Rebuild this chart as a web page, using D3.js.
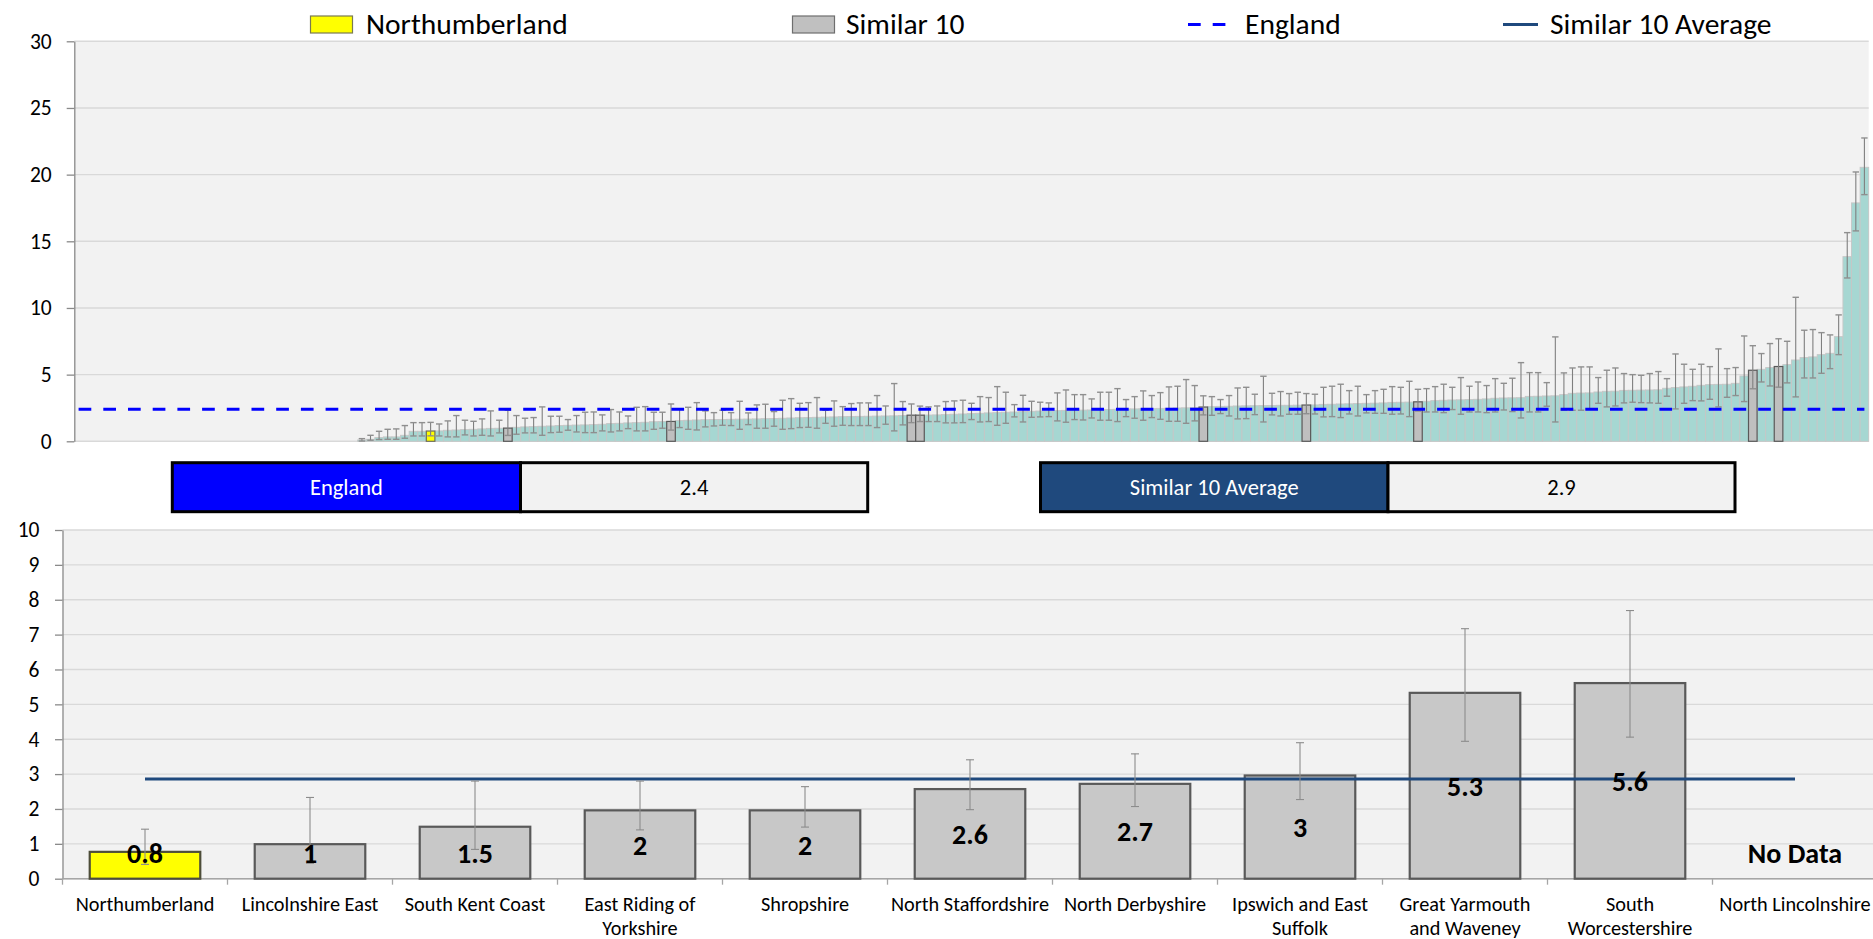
<!DOCTYPE html>
<html>
<head>
<meta charset="utf-8">
<script src="https://cdn.jsdelivr.net/npm/d3@7"></script>
<style>
  body { margin: 0; background: #ffffff; }
  svg { display: block; }
  text { font-family: Carlito, Calibri, Lato, sans-serif; }
</style>
</head>
<body>
<svg id="chart" width="1873" height="939"></svg>
<script>
// ---------------- DATA ----------------
// Top chart: all areas sorted by value (null = no data). Rows of 10 indices.
const topValues = [
  null,null,null,null,null,null,null,null,null,null,
  null,null,null,null,null,null,null,null,null,null,
  null,null,null,null,null,null,null,null,null,null,
  null,null,null,0.1,0.15,0.28,0.33,0.33,0.45,0.75,
  0.75,0.77,0.78,0.83,0.85,0.88,0.9,0.93,0.97,0.98,
  0.99,1.05,1.08,1.1,1.13,1.15,1.18,1.2,1.22,1.23,
  1.25,1.28,1.33,1.35,1.38,1.4,1.43,1.47,1.48,1.49,
  1.55,1.58,1.6,1.62,1.63,1.64,1.65,1.66,1.67,1.68,
  1.7,1.71,1.73,1.75,1.77,1.78,1.8,1.82,1.83,1.85,
  1.86,1.87,1.88,1.89,1.9,1.91,1.93,1.96,1.96,1.97,
  1.98,2.0,2.03,2.05,2.08,2.1,2.13,2.15,2.18,2.2,
  2.23,2.25,2.27,2.28,2.3,2.32,2.33,2.34,2.35,2.38,
  2.39,2.4,2.42,2.43,2.44,2.45,2.47,2.48,2.5,2.51,
  2.53,2.57,2.6,2.62,2.63,2.65,2.66,2.67,2.68,2.69,
  2.7,2.7,2.71,2.72,2.73,2.77,2.78,2.8,2.81,2.83,
  2.85,2.86,2.88,2.92,2.93,2.94,2.96,3.0,3.05,3.08,
  3.1,3.11,3.13,3.15,3.18,3.23,3.25,3.26,3.27,3.37,
  3.38,3.4,3.41,3.5,3.6,3.62,3.63,3.7,3.75,3.76,
  3.82,3.83,3.84,3.85,3.86,3.98,4.03,4.08,4.13,4.2,
  4.25,4.27,4.28,4.35,4.9,5.33,5.4,5.53,5.61,5.75,
  6.1,6.28,6.33,6.5,6.6,7.85,13.85,17.88,20.55
];
const topUpper = [
  null,null,null,null,null,null,null,null,null,null,
  null,null,null,null,null,null,null,null,null,null,
  null,null,null,null,null,null,null,null,null,null,
  null,null,null,0.2,0.45,0.75,0.9,0.93,1.18,1.4,
  1.4,1.42,1.3,1.53,1.93,1.58,1.5,1.68,2.28,1.58,
  2.33,1.93,1.73,1.78,2.58,1.88,1.88,1.63,1.93,2.18,
  2.2,1.98,2.38,2.2,1.9,2.55,2.6,2.18,2.18,2.8,
  2.4,2.55,2.9,2.28,2.15,2.33,2.15,3.0,2.13,2.73,
  2.78,2.23,3.08,3.2,2.85,2.9,3.28,2.33,3.03,2.6,
  2.83,2.88,2.88,3.43,2.65,4.33,2.98,2.8,2.64,2.58,
  2.65,2.98,3.03,3.08,2.85,3.35,3.28,4.1,3.68,2.75,
  3.45,3.0,2.93,2.88,3.63,3.85,3.5,3.5,3.18,3.68,
  3.68,3.95,3.13,3.35,3.78,3.43,3.65,4.08,4.13,4.63,
  4.18,3.41,3.35,3.13,3.43,4.0,4.05,3.53,4.88,3.6,
  3.73,3.58,3.68,3.58,3.53,4.05,4.13,4.28,3.8,4.13,
  3.5,3.8,3.9,4.1,4.05,4.5,3.9,3.95,4.1,4.28,
  4.05,4.78,4.13,4.45,4.18,4.7,4.35,4.73,5.9,5.15,
  5.15,4.4,7.83,5.13,5.5,5.58,5.58,4.78,5.33,5.5,
  5.08,5.0,4.95,5.08,5.23,4.7,6.55,5.78,5.4,5.78,
  5.6,6.93,5.45,5.53,7.9,7.17,6.58,7.33,7.69,7.5,
  10.8,8.33,8.38,8.15,7.98,9.48,15.65,20.2,22.75
];
const topLower = [
  null,null,null,null,null,null,null,null,null,null,
  null,null,null,null,null,null,null,null,null,null,
  null,null,null,null,null,null,null,null,null,null,
  null,null,null,0.02,0.08,0.13,0.15,0.15,0.23,0.4,
  0.4,0.41,0.4,0.33,0.33,0.48,0.4,0.45,0.4,0.63,
  0.44,0.53,0.63,0.63,0.45,0.65,0.68,0.83,0.7,0.65,
  0.65,0.78,0.7,0.78,0.95,0.78,0.78,0.9,0.98,0.84,
  1.03,0.9,0.85,1.08,1.15,1.2,1.18,0.9,1.25,0.98,
  0.98,1.13,0.9,0.95,1.03,1.05,0.98,1.35,1.13,1.2,
  1.18,1.18,1.18,1.03,1.28,0.78,1.23,1.4,1.48,1.48,
  1.48,1.38,1.38,1.4,1.63,1.45,1.48,1.2,1.35,1.83,
  1.45,1.8,1.83,1.85,1.53,1.43,1.63,1.6,1.75,1.58,
  1.58,1.48,1.85,1.73,1.58,1.78,1.65,1.5,1.5,1.35,
  1.53,1.98,1.95,2.08,1.9,1.68,1.7,2.0,1.45,1.98,
  1.9,2.03,2.03,2.07,2.05,1.83,1.85,1.78,2.05,1.9,
  2.13,2.1,2.1,2.03,2.05,1.85,2.27,2.2,2.2,2.15,
  2.38,2.03,2.2,2.2,2.15,2.2,2.35,2.23,1.75,2.2,
  2.2,2.63,1.45,2.33,2.33,2.33,2.4,2.85,2.58,2.65,
  2.88,2.93,2.9,2.88,2.85,3.38,2.43,2.85,3.05,3.03,
  3.15,2.58,3.3,3.43,2.98,3.94,4.45,4.15,4.06,4.38,
  3.33,4.75,4.75,5.1,5.45,6.5,12.25,15.78,18.5
];
// Positions (in the sorted list) of the highlighted areas
const northumberlandIndex = 41;
const similarIndices = [50, 69, 97, 98, 131, 143, 156, 195, 198];
const topTicks = [0, 5, 10, 15, 20, 25, 30];

const englandValue = 2.4;
const similarAverageValue = 2.86;

// Bottom chart: Northumberland and its 10 similar areas
const bottomLabelLines = [
  ["Northumberland"],
  ["Lincolnshire East"],
  ["South Kent Coast"],
  ["East Riding of", "Yorkshire"],
  ["Shropshire"],
  ["North Staffordshire"],
  ["North Derbyshire"],
  ["Ipswich and East", "Suffolk"],
  ["Great Yarmouth", "and Waveney"],
  ["South", "Worcestershire"],
  ["North Lincolnshire"]
];
const bottomCategories = bottomLabelLines.map(l => l.join(" "));
const bottomValues = [0.77, 0.99, 1.49, 1.96, 1.96, 2.57, 2.72, 2.96, 5.33, 5.61, null];
const bottomLower  = [0.41, 0.44, 0.84, 1.40, 1.48, 1.98, 2.07, 2.27, 3.94, 4.06, null];
const bottomUpper  = [1.42, 2.33, 2.80, 2.80, 2.64, 3.41, 3.58, 3.90, 7.17, 7.69, null];
const bottomTicks = [0, 1, 2, 3, 4, 5, 6, 7, 8, 9, 10];

const legendLabels = ["Northumberland", "Similar 10", "England", "Similar 10 Average"];

// ---------------- DRAWING ----------------
const svg = d3.select("#chart");
const fmt1 = v => String(+v.toFixed(1));
const FONT = "Carlito, Calibri, Lato, sans-serif";

// ===== TOP CHART =====
const T = { left: 74.3, right: 1868.7, top: 41.3, bottom: 441.3 };
const xTop = d3.scaleBand().domain(topValues.map((d, i) => i)).range([T.left, T.right]).padding(0);
const yTop = d3.scaleLinear().domain([0, 30]).range([T.bottom, T.top]);

svg.append("rect").attr("x", T.left).attr("y", T.top)
  .attr("width", T.right - T.left).attr("height", T.bottom - T.top).attr("fill", "#f2f2f2");

svg.append("g").selectAll("line").data(topTicks).join("line")
  .attr("x1", T.left).attr("x2", T.right)
  .attr("y1", d => yTop(d)).attr("y2", d => yTop(d))
  .attr("stroke", "#d9d9d9").attr("stroke-width", 1.4);

const topAxis = svg.append("g").attr("transform", `translate(${T.left},0)`)
  .call(d3.axisLeft(yTop).tickValues(topTicks).tickSize(7.6).tickSizeOuter(0).tickPadding(15));
topAxis.select(".domain").attr("stroke", "#8a8a8a").attr("stroke-width", 1.3);
topAxis.selectAll(".tick line").attr("stroke", "#8a8a8a").attr("stroke-width", 1.3);
topAxis.selectAll(".tick text").attr("font-size", 21.5).attr("fill", "#000").style("font-family", FONT);

const topData = topValues.map((v, i) => ({
  i, v, lo: topLower[i], hi: topUpper[i],
  kind: i === northumberlandIndex ? "n" : (similarIndices.includes(i) ? "s" : "o")
})).filter(d => d.v !== null);

const fillOf = { o: "#a6d7d2", s: "#bfbfbf", n: "#ffff00" };
const strokeOf = { o: "#c6c6c6", s: "#595959", n: "#6e6e5a" };
const order = { o: 0, s: 1, n: 1 };

svg.append("g").selectAll("rect")
  .data(topData.slice().sort((a, b) => order[a.kind] - order[b.kind]))
  .join("rect")
  .attr("x", d => xTop(d.i)).attr("width", xTop.bandwidth())
  .attr("y", d => yTop(d.v)).attr("height", d => yTop(0) - yTop(d.v))
  .attr("fill", d => fillOf[d.kind]).attr("stroke", d => strokeOf[d.kind])
  .attr("stroke-width", d => d.kind === "o" ? 0.9 : 1.2);

const eb = svg.append("g");
const capW = 3.2;
topData.forEach(d => {
  const cx = xTop(d.i) + xTop.bandwidth() / 2;
  eb.append("line").attr("x1", cx).attr("x2", cx).attr("y1", yTop(d.hi)).attr("y2", yTop(d.lo))
    .attr("stroke", "#7f7f7f").attr("stroke-width", 1.1);
  [d.hi, d.lo].forEach(v => {
    eb.append("line").attr("x1", cx - capW).attr("x2", cx + capW).attr("y1", yTop(v)).attr("y2", yTop(v))
      .attr("stroke", "#8f8f8f").attr("stroke-width", 1.4);
  });
});

const firstC = xTop(0) + xTop.bandwidth() / 2;
const lastC = xTop(topValues.length - 1) + xTop.bandwidth() / 2;
svg.append("line").attr("x1", firstC).attr("x2", lastC)
  .attr("y1", yTop(englandValue)).attr("y2", yTop(englandValue))
  .attr("stroke", "#0000ff").attr("stroke-width", 3).attr("stroke-dasharray", "12.7 12");

// ===== LEGEND =====
const legend = svg.append("g");
const legY = 24.5, legBase = 33.5, legFont = 29.5;
legend.append("rect").attr("x", 310.5).attr("y", 16).attr("width", 42).attr("height", 17)
  .attr("fill", "#ffff00").attr("stroke", "#7a7a50").attr("stroke-width", 1.2);
legend.append("text").attr("x", 366).attr("y", legBase).attr("font-size", legFont).text(legendLabels[0]);
legend.append("rect").attr("x", 792.5).attr("y", 16).attr("width", 42).attr("height", 17)
  .attr("fill", "#c0c0c0").attr("stroke", "#6e6e6e").attr("stroke-width", 1.2);
legend.append("text").attr("x", 846).attr("y", legBase).attr("font-size", legFont).text(legendLabels[1]);
legend.append("line").attr("x1", 1188).attr("x2", 1227).attr("y1", legY).attr("y2", legY)
  .attr("stroke", "#0000ff").attr("stroke-width", 3).attr("stroke-dasharray", "12.7 12");
legend.append("text").attr("x", 1245).attr("y", legBase).attr("font-size", legFont).text(legendLabels[2]);
legend.append("line").attr("x1", 1503).attr("x2", 1538).attr("y1", legY).attr("y2", legY)
  .attr("stroke", "#1f497d").attr("stroke-width", 3.2);
legend.append("text").attr("x", 1550).attr("y", legBase).attr("font-size", legFont).text(legendLabels[3]);

// ===== VALUE BOXES =====
function valueBox(x0, xm, x1, fill, label, value) {
  const g = svg.append("g");
  const y0 = 462.7, h = 49;
  g.append("rect").attr("x", x0).attr("y", y0).attr("width", xm - x0).attr("height", h)
    .attr("fill", fill).attr("stroke", "#000").attr("stroke-width", 3);
  g.append("rect").attr("x", xm).attr("y", y0).attr("width", x1 - xm).attr("height", h)
    .attr("fill", "#f2f2f2").attr("stroke", "#000").attr("stroke-width", 3);
  g.append("text").attr("x", (x0 + xm) / 2).attr("y", y0 + h / 2).attr("dy", "0.35em")
    .attr("text-anchor", "middle").attr("font-size", 22.5).attr("fill", "#fff").text(label);
  g.append("text").attr("x", (xm + x1) / 2).attr("y", y0 + h / 2).attr("dy", "0.35em")
    .attr("text-anchor", "middle").attr("font-size", 22.5).attr("fill", "#000").text(value);
}
valueBox(172.3, 520.5, 867.7, "#0000ff", "England", fmt1(englandValue));
valueBox(1040.5, 1388, 1735, "#1f497d", "Similar 10 Average", fmt1(similarAverageValue));

// ===== BOTTOM CHART =====
const B = { left: 62.5, right: 1877.5, top: 530, bottom: 878.7 };
const xB = d3.scaleBand().domain(bottomCategories).range([B.left, B.right])
  .paddingInner(0.33).paddingOuter(0.165);
const yB = d3.scaleLinear().domain([0, 10]).range([B.bottom, B.top]);

svg.append("rect").attr("x", B.left).attr("y", B.top)
  .attr("width", B.right - B.left).attr("height", B.bottom - B.top).attr("fill", "#f2f2f2");
svg.append("g").selectAll("line").data(bottomTicks).join("line")
  .attr("x1", B.left).attr("x2", B.right)
  .attr("y1", d => yB(d)).attr("y2", d => yB(d))
  .attr("stroke", "#d9d9d9").attr("stroke-width", 1.4);

const bAxis = svg.append("g").attr("transform", `translate(${B.left},0)`)
  .call(d3.axisLeft(yB).tickValues(bottomTicks).tickSize(7.5).tickSizeOuter(0).tickPadding(15.5));
bAxis.select(".domain").attr("stroke", "#8a8a8a").attr("stroke-width", 1.3);
bAxis.selectAll(".tick line").attr("stroke", "#8a8a8a").attr("stroke-width", 1.3);
bAxis.selectAll(".tick text").attr("font-size", 21.5).attr("fill", "#000").style("font-family", FONT);

const step = xB.step();
svg.append("line").attr("x1", B.left).attr("x2", B.right).attr("y1", B.bottom).attr("y2", B.bottom)
  .attr("stroke", "#a6a6a6").attr("stroke-width", 1.4);
svg.append("g").selectAll("line").data(d3.range(bottomCategories.length + 1)).join("line")
  .attr("x1", k => B.left + k * step).attr("x2", k => B.left + k * step)
  .attr("y1", B.bottom).attr("y2", B.bottom + 6)
  .attr("stroke", "#a6a6a6").attr("stroke-width", 1.3);

const bData = bottomCategories.map((c, i) => ({ c, i, v: bottomValues[i], lo: bottomLower[i], hi: bottomUpper[i] }));
const bWithVal = bData.filter(d => d.v !== null);

svg.append("g").selectAll("rect").data(bWithVal).join("rect")
  .attr("x", d => xB(d.c)).attr("width", xB.bandwidth())
  .attr("y", d => yB(d.v)).attr("height", d => yB(0) - yB(d.v))
  .attr("fill", d => d.i === 0 ? "#ffff00" : "#c8c8c8")
  .attr("stroke", d => d.i === 0 ? "#4d4d3a" : "#595959").attr("stroke-width", 2.2);

const cx0 = xB(bottomCategories[0]) + xB.bandwidth() / 2;
const cx1 = xB(bottomCategories[bottomCategories.length - 1]) + xB.bandwidth() / 2;
svg.append("line").attr("x1", cx0).attr("x2", cx1)
  .attr("y1", yB(similarAverageValue)).attr("y2", yB(similarAverageValue))
  .attr("stroke", "#1f497d").attr("stroke-width", 3);

const beb = svg.append("g");
bWithVal.forEach(d => {
  const cx = xB(d.c) + xB.bandwidth() / 2;
  beb.append("line").attr("x1", cx).attr("x2", cx).attr("y1", yB(d.hi)).attr("y2", yB(d.lo))
    .attr("stroke", "#8c8c8c").attr("stroke-width", 1.1);
  [d.hi, d.lo].forEach(v => beb.append("line").attr("x1", cx - 4).attr("x2", cx + 4)
    .attr("y1", yB(v)).attr("y2", yB(v)).attr("stroke", "#8c8c8c").attr("stroke-width", 1.1));
});

const labelFloor = yB(0.74);
svg.append("g").selectAll("text").data(bData).join("text")
  .attr("x", d => xB(d.c) + xB.bandwidth() / 2)
  .attr("y", d => d.v === null ? labelFloor : Math.min(yB(d.v / 2), labelFloor))
  .attr("dy", "0.36em").attr("text-anchor", "middle")
  .attr("font-size", 28).attr("font-weight", "bold").attr("fill", "#000")
  .text(d => d.v === null ? "No Data" : fmt1(d.v));

const xl = svg.append("g");
bData.forEach(d => {
  const cx = xB(d.c) + xB.bandwidth() / 2;
  const t = xl.append("text").attr("x", cx).attr("y", 910.5)
    .attr("text-anchor", "middle").attr("font-size", 20.3).attr("fill", "#000");
  bottomLabelLines[d.i].forEach((line, k) => {
    t.append("tspan").attr("x", cx).attr("dy", k === 0 ? 0 : 24.5).text(line);
  });
});
</script>
</body>
</html>
